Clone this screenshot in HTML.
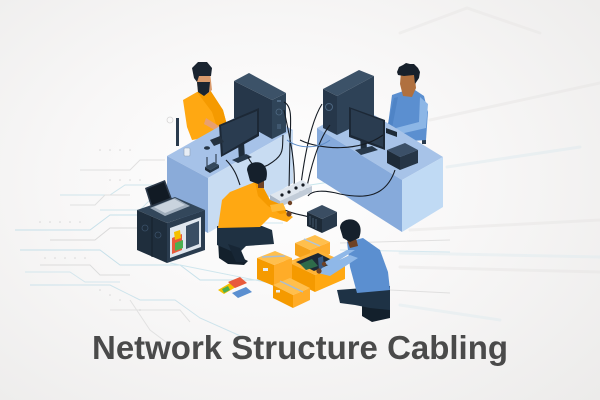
<!DOCTYPE html>
<html><head><meta charset="utf-8"><style>
html,body{margin:0;padding:0;}
body{width:600px;height:400px;overflow:hidden;background:radial-gradient(ellipse 75% 80% at 45% 45%,#ffffff 0%,#f8f7f7 45%,#ecebea 100%);}
svg{display:block;}
</style></head><body>
<svg width="600" height="400" viewBox="0 0 600 400" xmlns="http://www.w3.org/2000/svg">
<!-- right side streaks -->
<g fill="none" stroke-width="3" stroke-linecap="round" opacity="0.4">
<path d="M400,33 L467,8 L540,33" stroke="#e6e4e3"/>
<path d="M430,120 L600,83" stroke="#e4e2e1"/>
<path d="M447,167 L580,147" stroke="#d8e8ee"/>
<path d="M410,230 L600,220" stroke="#e4e2e1"/>
<path d="M400,253 L600,257" stroke="#dbeaef"/>
<path d="M400,267 L600,272" stroke="#e4e2e1"/>
<path d="M400,305 L500,320" stroke="#dbeaef"/>
</g>
<!-- circuit lines left -->
<g fill="none" stroke-width="1" opacity="0.85">
<path d="M15,230 L90,230 L110,215 L175,215" stroke="#bfdde8"/>
<path d="M20,250 L100,250 L120,265 L180,265 L200,280 L260,280" stroke="#bfdde8"/>
<path d="M60,195 L110,195 L125,185 L160,185" stroke="#c9e2ea"/>
<path d="M100,210 L140,210 L150,200 L165,200" stroke="#c9e2ea"/>
<path d="M30,285 L110,285 L140,300 L175,300 L200,318 L245,338" stroke="#c6e0ea"/>
<path d="M50,240 L95,240 L110,228 L140,228" stroke="#d5d5d5"/>
<path d="M40,265 L90,265 L100,275 L130,275" stroke="#d8d8d8"/>
<path d="M80,170 L130,170 L140,160 L165,160" stroke="#dcdcdc"/>
<path d="M70,205 L95,205 L105,195 L130,195" stroke="#dcdcdc"/>
<path d="M25,272 L70,272 L85,282 L120,282" stroke="#cfe4ec"/>
<path d="M257,193 L330,182" stroke="#bfe2ea"/>
<path d="M210,223 L283,223" stroke="#c8e3ec"/>
<path d="M170,263 L270,283" stroke="#c8e3ec"/>
<path d="M340,243 L450,240" stroke="#dcdcdc"/>
<path d="M340,250 L450,252" stroke="#cfe6ee"/>
<path d="M390,290 L450,293" stroke="#dcdcdc"/>
<path d="M130,300 L150,330 L170,345" stroke="#dedede"/>
<path d="M110,310 L180,310 L190,322" stroke="#dedede"/>
</g>
<g fill="#d0d0d0" opacity="0.8">
<circle cx="40" cy="222" r="0.8"/><circle cx="50" cy="222" r="0.8"/><circle cx="60" cy="222" r="0.8"/><circle cx="70" cy="222" r="0.8"/><circle cx="80" cy="222" r="0.8"/>
<circle cx="45" cy="258" r="0.8"/><circle cx="55" cy="258" r="0.8"/><circle cx="65" cy="258" r="0.8"/><circle cx="75" cy="258" r="0.8"/><circle cx="85" cy="258" r="0.8"/>
<circle cx="100" cy="150" r="0.8"/><circle cx="110" cy="150" r="0.8"/><circle cx="120" cy="150" r="0.8"/><circle cx="130" cy="150" r="0.8"/>
<circle cx="100" cy="290" r="0.8"/><circle cx="110" cy="295" r="0.8"/><circle cx="120" cy="300" r="0.8"/><circle cx="140" cy="310" r="0.8"/>
<circle cx="110" cy="180" r="0.8"/><circle cx="120" cy="180" r="0.8"/><circle cx="130" cy="180" r="0.8"/><circle cx="140" cy="180" r="0.8"/>
</g>
<circle cx="170" cy="120" r="3" fill="none" stroke="#d6d6d6" stroke-width="0.8"/>

<!-- RIGHT MAN -->
<rect x="422" y="118" width="4" height="26" fill="#2a3b4d"/>
<path d="M392,95 L412,88 L424,96 L428,112 L426,140 L395,142 L388,125 Z" fill="#5b8fd0"/>
<path d="M420,97 L428,104 L426,128 L400,134 L396,128 L419,122 Z" fill="#8cb6e6"/>
<path d="M394,98 L398,97 L392,128 L387,128 Z" fill="#4f84c6"/>
<path d="M401,72 L414,70 L416,88 L412,97 L403,96 L400,84 Z" fill="#b0703f"/>
<path d="M397,72 L399,67 L403,65 L406,63 L410,64 L414,64 L418,68 L420,72 L419,78 L415,84 L414,75 L404,76 L398,75 Z" fill="#17202b"/>
<!-- right desk -->
<path d="M317,128 L358,105 L443,157 L402,180 Z" fill="#a7c3e8"/>
<path d="M317,128 L402,180 L402,232 L317,178 Z" fill="#86aadb"/>
<path d="M402,180 L443,157 L443,207 L402,232 Z" fill="#c0daf4"/>
<!-- right tower -->
<path d="M323,89 L359,70 L374,76 L337,96 Z" fill="#3c5268"/>
<path d="M323,89 L337,96 L337,135 L323,128 Z" fill="#26374a"/>
<path d="M337,96 L374,76 L374,117 L337,135 Z" fill="#2e4257"/>
<circle cx="329" cy="107" r="3.5" fill="none" stroke="#4c6680" stroke-width="1"/>
<!-- right monitor -->
<path d="M360,135 L366,133 L367,150 L361,152 Z" fill="#1e2c3a"/>
<path d="M355,150 L372,146 L378,150 L361,155 Z" fill="#27384a"/>
<path d="M349,107 L385,120 L385,150 L349,137 Z" fill="#1c2836"/>
<path d="M351,109 L383,121 L383,147 L351,135 Z" fill="#2a3c50"/>
<!-- keyboard / device -->
<path d="M386,128 L397,132 L397,137 L386,133 Z" fill="#1e2b38"/>
<path d="M387,150 L405,143 L418,150 L400,157 Z" fill="#3b5068"/>
<path d="M387,150 L400,157 L400,170 L387,163 Z" fill="#1e2b38"/>
<path d="M400,157 L418,150 L418,163 L400,170 Z" fill="#263647"/>

<!-- LEFT MAN -->
<rect x="176" y="118" width="3" height="28" fill="#2a3b4d"/>
<path d="M183,100 L197,92 L210,90 L223,110 L227,125 L210,137 L192,140 L187,127 Z" fill="#ffa812"/>
<path d="M197,92 L210,90 L223,110 L227,125 L218,130 L212,112 Z" fill="#f59a00"/>
<path d="M206,118 L222,128 L220,133 L204,124 Z" fill="#e8a070"/>
<path d="M196,73 L210,72 L212,90 L206,95 L198,92 Z" fill="#d99a6c"/>
<path d="M197,82 L210,82 L209,92 L204,96 L198,92 Z" fill="#1a2430"/>
<path d="M192,68 L198,62 L207,62 L212,68 L211,76 L199,76 L197,82 L194,78 Z" fill="#1a2430"/>
<!-- left desk -->
<path d="M167,156 L252,108 L293,130 L208,178 Z" fill="#a6c2e8"/>
<path d="M167,156 L208,178 L208,233 L167,211 Z" fill="#8aabd9"/>
<path d="M208,178 L293,130 L293,183 L208,233 Z" fill="#c8dcf2"/>
<!-- mug, router, mouse -->
<rect x="184" y="148" width="6" height="8" rx="1" fill="#e8eef5" stroke="#8fa2b8" stroke-width="0.6"/>
<ellipse cx="207" cy="148" rx="3" ry="1.8" fill="#253545"/>
<path d="M205,167 L214,162 L219,165 L210,170 Z" fill="#34485c"/>
<path d="M205,167 L210,170 L210,173 L205,170 Z" fill="#1d2a37"/>
<path d="M210,170 L219,165 L219,168 L210,173 Z" fill="#26384a"/>
<line x1="207" y1="166" x2="207" y2="157" stroke="#1d2a37" stroke-width="1"/>
<line x1="216" y1="163" x2="216" y2="154" stroke="#1d2a37" stroke-width="1"/>
<!-- left tower -->
<path d="M234,81 L249,73 L286,93 L272,100 Z" fill="#3c5268"/>
<path d="M234,81 L272,100 L272,139 L234,118 Z" fill="#26374a"/>
<path d="M272,100 L286,93 L286,132 L272,139 Z" fill="#2f4458"/>
<circle cx="279" cy="112" r="3" fill="none" stroke="#506a84" stroke-width="0.8"/>
<rect x="277" y="100" width="4" height="2" fill="#506a84"/>
<rect x="277" y="124" width="4" height="5" fill="#405870"/>
<!-- left monitor -->
<path d="M238,144 L244,142 L245,158 L239,160 Z" fill="#1e2c3a"/>
<path d="M232,160 L246,154 L252,157 L238,163 Z" fill="#27384a"/>
<path d="M219,125 L259,108 L259,136 L221,157 Z" fill="#1c2836"/>
<path d="M221,126 L257,111 L257,134 L223,154 Z" fill="#2a3c50"/>
<path d="M210,140 L220,136 L224,142 L214,146 Z" fill="#24313f"/>

<!-- CABLES -->
<g fill="none" stroke="#161c24" stroke-width="1.1">
<path d="M284,102 C292,106 291,118 290,140 L289,190"/>
<path d="M284,110 C288,130 296,160 294,190"/>
<path d="M322,104 C312,120 305,150 300,192"/>
<path d="M330,125 C318,140 310,170 306,192"/>
<path d="M248,157 C252,166 258,170 268,165 C285,155 282,150 283,135"/>
<path d="M395,170 C385,200 360,198 340,194 C325,190 312,190 308,196"/>
<path d="M226,160 C236,170 238,180 240,185"/>
<path d="M285,210 C295,215 305,215 312,218"/>
<path d="M383,135 C360,152 320,150 300,140"/>
</g>
<path d="M287,140 C300,150 320,148 330,140" fill="none" stroke="#5d8cc8" stroke-width="1"/>
<!-- power strip -->
<path d="M270,195 L302,180 L312,186 L280,201 Z" fill="#dfe6ee"/>
<path d="M270,195 L280,201 L280,207 L270,201 Z" fill="#a9b6c6"/>
<path d="M280,201 L312,186 L312,192 L280,207 Z" fill="#c2ccd8"/>
<g fill="#141a22"><circle cx="282" cy="195" r="1.6"/><circle cx="289" cy="192" r="1.6"/><circle cx="296" cy="188" r="1.6"/><circle cx="303" cy="185" r="1.6"/></g>

<!-- SERVER RACK + LAPTOP -->
<path d="M137,210 L175,197 L205,210 L167,223 Z" fill="#33475b"/>
<path d="M137,210 L167,223 L167,263 L137,250 Z" fill="#1f2e3d"/>
<path d="M167,223 L205,210 L205,250 L167,263 Z" fill="#2a3c4f"/>
<path d="M170,228 L201,217 L201,247 L170,258 Z" fill="#dfe6ee"/>
<path d="M172,238 L182,234 L182,250 L172,254 Z" fill="#e85a3c"/>
<path d="M174,232 L180,230 L181,238 L175,240 Z" fill="#f5c000"/>
<path d="M175,243 L183,240 L183,248 L175,251 Z" fill="#4caf50"/>
<path d="M186,226 L199,221 L199,244 L186,249 Z" fill="#3a4e64"/>
<line x1="152" y1="217" x2="152" y2="257" stroke="#15202b" stroke-width="1"/>
<circle cx="145" cy="228" r="3" fill="none" stroke="#3a5068" stroke-width="0.8"/>
<circle cx="158" cy="235" r="3" fill="none" stroke="#3a5068" stroke-width="0.8"/>
<!-- laptop -->
<path d="M150,208 L175,198 L190,206 L165,216 Z" fill="#9fadbc"/>
<path d="M154,207 L174,199 L185,205 L165,213 Z" fill="#c9d3de"/>
<path d="M145,188 L165,180 L172,199 L151,207 Z" fill="#2b3848"/>
<path d="M147,189 L164,182 L170,198 L152,205 Z" fill="#111a24"/>

<!-- KNEELING ORANGE MAN -->
<path d="M218,240 L234,238 L238,256 L248,261 L244,265 L228,264 L219,258 Z" fill="#13202c"/>
<path d="M217,226 L262,226 L272,230 L274,244 L246,246 L238,254 L217,245 Z" fill="#1f3142"/>
<path d="M228,244 L240,248 L246,262 L236,262 Z" fill="#172635"/>
<path d="M222,200 L230,192 L255,182 L263,187 L270,200 L282,205 L287,213 L293,217 L287,222 L270,217 L260,227 L218,228 Z" fill="#ffa812"/>
<path d="M255,182 L263,187 L270,200 L282,205 L287,213 L280,214 L268,206 L258,196 Z" fill="#f59a00"/>
<path d="M270,205 L283,203 L286,210 L272,212 Z" fill="#ffb936"/>
<circle cx="289" cy="214" r="2.6" fill="#6e4226"/>
<circle cx="290" cy="203" r="2.2" fill="#6e4226"/>
<path d="M258,179 L264,178 L264,188 L258,188 Z" fill="#6e4226"/>
<path d="M247,170 C247,163 255,161 261,163 C267,166 268,173 266,180 L258,184 L250,181 Z" fill="#15202c"/>

<!-- small switch -->
<path d="M307,212 L322,205 L337,212 L322,219 Z" fill="#3a4d62"/>
<path d="M307,212 L322,219 L322,233 L307,226 Z" fill="#1d2a37"/>
<path d="M322,219 L337,212 L337,226 L322,233 Z" fill="#28394b"/>
<g stroke="#4c6278" stroke-width="0.8"><line x1="310" y1="216" x2="310" y2="225"/><line x1="313" y1="218" x2="313" y2="227"/><line x1="316" y1="219" x2="316" y2="229"/></g>

<!-- BOXES -->
<path d="M295,243 L315,235 L330,242 L310,250 Z" fill="#ffbf4d"/>
<path d="M295,243 L310,250 L310,262 L295,255 Z" fill="#f5a21a"/>
<path d="M310,250 L330,242 L330,254 L310,262 Z" fill="#ffae2e"/>
<line x1="304" y1="239" x2="320" y2="246" stroke="#b0c4d8" stroke-width="1.5"/>
<path d="M288,262 L318,250 L345,262 L315,275 Z" fill="#ffb336"/>
<path d="M296,262 L318,253 L336,262 L314,271 Z" fill="#1e2a36"/>
<path d="M300,264 L312,259 L318,266 L306,270 Z" fill="#2e6b4a"/>
<path d="M288,262 L315,275 L315,292 L288,279 Z" fill="#f59a00"/>
<path d="M315,275 L345,262 L345,279 L315,292 Z" fill="#ffa812"/>
<path d="M283,255 L296,262 L288,266 Z" fill="#ffbf4d"/>
<path d="M336,262 L348,256 L345,266 Z" fill="#ffbf4d"/>
<path d="M257,258 L275,251 L292,258 L274,265 Z" fill="#ffbf4d"/>
<path d="M257,258 L274,265 L274,286 L257,279 Z" fill="#f59a00"/>
<path d="M274,265 L292,258 L292,279 L274,286 Z" fill="#ffac28"/>
<line x1="262" y1="257" x2="285" y2="256" stroke="#a9bdd2" stroke-width="1.5"/>
<rect x="263" y="268" width="5" height="3" fill="#e8eef5"/>
<path d="M273,285 L290,278 L310,288 L293,295 Z" fill="#ffbf4d"/>
<path d="M273,285 L293,295 L293,308 L273,298 Z" fill="#f59a00"/>
<path d="M293,295 L310,288 L310,300 L293,308 Z" fill="#ffac28"/>
<line x1="280" y1="281" x2="303" y2="292" stroke="#a9bdd2" stroke-width="1.5"/>
<rect x="276" y="290" width="4" height="2.5" fill="#e8eef5"/>
<path d="M318,258 L323,256 L324,268 L319,270 Z" fill="#3a5a80"/>

<!-- CROUCHING BLUE MAN -->
<path d="M362,302 L378,300 L390,305 L390,318 L372,322 L362,316 Z" fill="#13202c"/>
<path d="M337,290 L390,286 L390,310 L370,308 L355,305 L340,303 Z" fill="#1e3245"/>
<path d="M347,242 L363,238 L380,250 L388,272 L390,290 L357,293 L350,267 Z" fill="#5b8fd0"/>
<path d="M350,255 L358,258 L330,276 L318,273 L322,268 Z" fill="#8fb8e8"/>
<path d="M347,250 L355,250 L330,266 L323,263 Z" fill="#8fb8e8"/>
<circle cx="319" cy="271" r="2.6" fill="#6e4226"/>
<circle cx="324" cy="264" r="2.2" fill="#6e4226"/>
<path d="M347,240 L356,238 L358,246 L350,248 Z" fill="#6e4226"/>
<path d="M340,228 C340,221 348,218 354,220 C361,223 362,230 359,238 L350,242 L343,238 Z" fill="#15202c"/>

<!-- FLYERS -->
<path d="M218,290 L230,283 L236,287 L224,294 Z" fill="#f5c000"/>
<path d="M222,289 L228,286 L230,290 L224,293 Z" fill="#4caf50"/>
<path d="M228,282 L240,277 L247,283 L235,288 Z" fill="#e85a3c"/>
<path d="M232,293 L246,287 L252,292 L238,298 Z" fill="#5b8fd0"/>

<!-- TITLE -->
<text x="92" y="359" textLength="416" lengthAdjust="spacingAndGlyphs" font-family="'Liberation Sans', Arial, sans-serif" font-weight="bold" font-size="33.5" fill="#4a4a4a">Network Structure Cabling</text>
</svg>
</body></html>
